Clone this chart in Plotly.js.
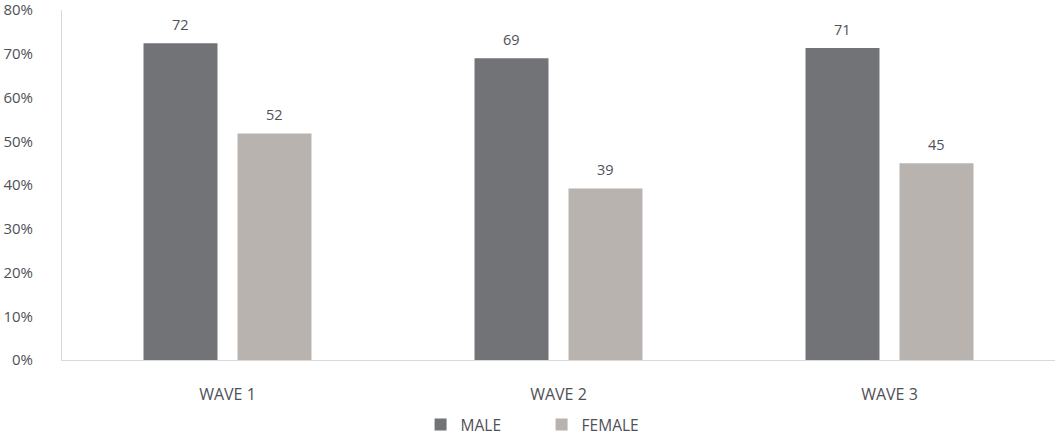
<!DOCTYPE html>
<html>
<head>
<meta charset="utf-8">
<script src="https://cdn.plot.ly/plotly-3.0.1.min.js"></script>
<style>html,body{margin:0;padding:0;background:#fff}#chart{width:1057px;height:442px}</style>
</head>
<body>
<div id="chart"></div>
<script>
var categories = ["WAVE 1", "WAVE 2", "WAVE 3"];
var maleValues = [72.4, 69.0, 71.3];
var femaleValues = [51.8, 39.2, 45.0];
var maleLabels = ["72", "69", "71"];
var femaleLabels = ["52", "39", "45"];
var yTickVals = [0, 10, 20, 30, 40, 50, 60, 70, 80];
var yTickText = ["0%", "10%", "20%", "30%", "40%", "50%", "60%", "70%", "80%"];

var font = "Open Sans, Liberation Sans, sans-serif";
var textColor = "#505058";

var traces = [
  {
    type: "bar", name: "MALE", x: categories, y: maleValues,
    marker: {color: "#727377"}, hoverinfo: "none"
  },
  {
    type: "bar", name: "FEMALE", x: categories, y: femaleValues,
    marker: {color: "#b8b3af"}, hoverinfo: "none"
  }
];

var annotations = [];
function addLabels(vals, labels, shift) {
  for (var i = 0; i < categories.length; i++) {
    annotations.push({
      x: categories[i], y: vals[i], xref: "x", yref: "y",
      text: labels[i], showarrow: false,
      xanchor: "center", yanchor: "middle",
      xshift: shift, yshift: 19,
      font: {family: font, size: 14.5, color: textColor}
    });
  }
}
addLabels(maleValues, maleLabels, -47);
addLabels(femaleValues, femaleLabels, 47);

var layout = {
  width: 1057, height: 442,
  margin: {l: 62, r: 2, t: 10, b: 82},
  paper_bgcolor: "#fff", plot_bgcolor: "#fff",
  font: {family: font, color: textColor, size: 15},
  barmode: "group", bargap: 0.432, bargroupgap: 0.213,
  showlegend: true,
  annotations: annotations,
  legend: {orientation: "h", x: 0.489, xanchor: "center",
           yref: "container", y: -0.012, yanchor: "bottom",
           font: {family: font, size: 15.5, color: textColor},
           itemwidth: 30, indentation: -6, entrywidth: 82, traceorder: "normal"},
  xaxis: {
    automargin: false,
    showline: true, linecolor: "#d9d9d9", linewidth: 1,
    showgrid: false, zeroline: false, ticks: "", ticklabelstandoff: 20,
    tickfont: {family: font, size: 16, color: textColor}, fixedrange: true
  },
  yaxis: {
    automargin: false, ticklabeloverflow: "allow",
    range: [0, 80], tickvals: yTickVals, ticktext: yTickText,
    showline: true, linecolor: "#d9d9d9", linewidth: 1,
    showgrid: false, zeroline: false, ticks: "", ticklabelstandoff: 25,
    tickfont: {family: font, size: 15, color: textColor}, fixedrange: true
  }
};

Plotly.newPlot("chart", traces, layout, {displayModeBar: false, staticPlot: true});
</script>
</body>
</html>
